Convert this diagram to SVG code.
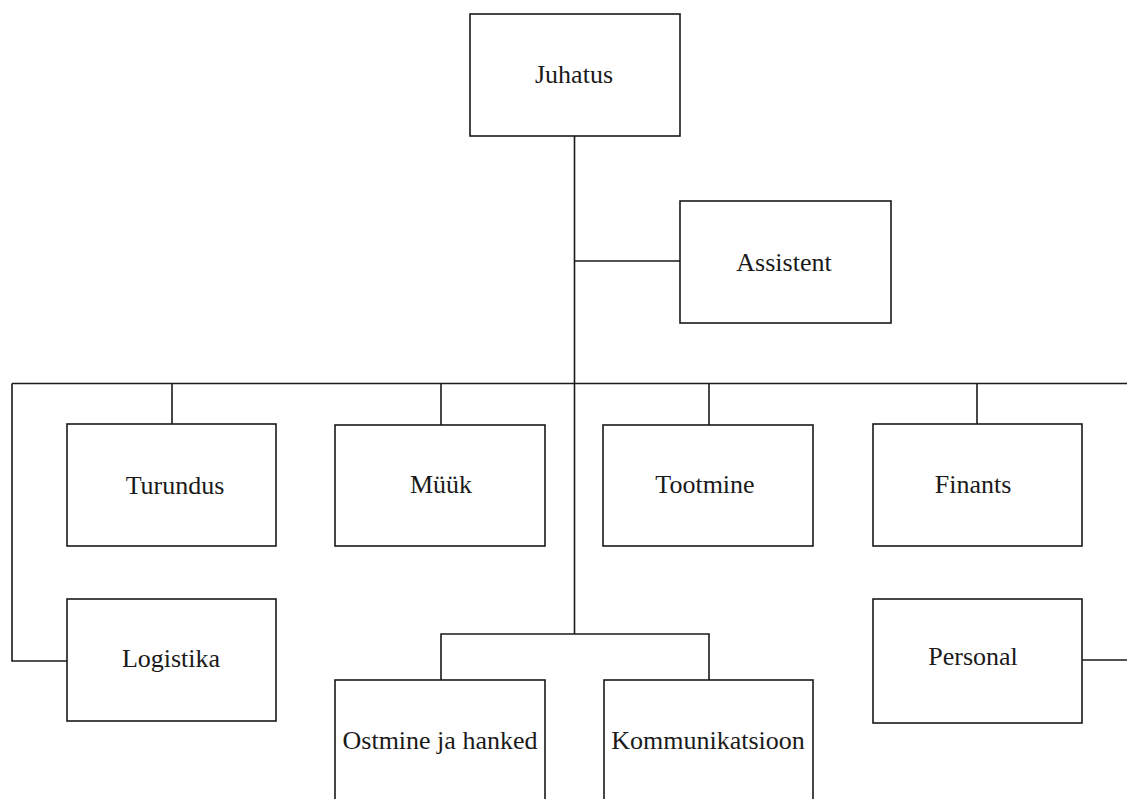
<svg xmlns="http://www.w3.org/2000/svg" width="1127" height="799" viewBox="0 0 1127 799">
<style>
.box{fill:#fff;stroke:#1a1a1a;stroke-width:1.6}
.lbl{font-family:"Liberation Serif","Times New Roman",serif;font-size:26px;fill:#1a1a1a;text-anchor:middle}
.con{fill:none;stroke:#1a1a1a;stroke-width:1.6}
</style>
<rect width="1127" height="799" fill="#fff"/>
<g id="connectors" class="con">
<path d="M574.5 136 V634"/>
<path d="M574.5 261 H680"/>
<path d="M12 383.5 H1127"/>
<path d="M172 383.5 V424"/>
<path d="M441 383.5 V425"/>
<path d="M709 383.5 V425"/>
<path d="M977 383.5 V424"/>
<path d="M12 383.5 V661 H67"/>
<path d="M441 680 V634 H709 V680"/>
<path d="M1082 660 H1127"/>
</g>
<g id="juhatus"><rect class="box" x="470" y="14" width="210" height="122"/><text class="lbl" x="574" y="83">Juhatus</text></g>
<g id="assistent"><rect class="box" x="680" y="201" width="211" height="122"/><text class="lbl" x="784" y="271">Assistent</text></g>
<g id="turundus"><rect class="box" x="67" y="424" width="209" height="122"/><text class="lbl" x="175" y="494">Turundus</text></g>
<g id="muuk"><rect class="box" x="335" y="425" width="210" height="121"/><text class="lbl" x="441" y="493">Müük</text></g>
<g id="tootmine"><rect class="box" x="603" y="425" width="210" height="121"/><text class="lbl" x="705" y="493">Tootmine</text></g>
<g id="finants"><rect class="box" x="873" y="424" width="209" height="122"/><text class="lbl" x="973" y="493">Finants</text></g>
<g id="logistika"><rect class="box" x="67" y="599" width="209" height="122"/><text class="lbl" x="171" y="667">Logistika</text></g>
<g id="personal"><rect class="box" x="873" y="599" width="209" height="124"/><text class="lbl" x="973" y="665">Personal</text></g>
<g id="ostmine"><rect class="box" x="335" y="680" width="210" height="140"/><text class="lbl" x="440" y="749">Ostmine ja hanked</text></g>
<g id="kommunikatsioon"><rect class="box" x="604" y="680" width="209" height="140"/><text class="lbl" x="708" y="749">Kommunikatsioon</text></g>
</svg>
